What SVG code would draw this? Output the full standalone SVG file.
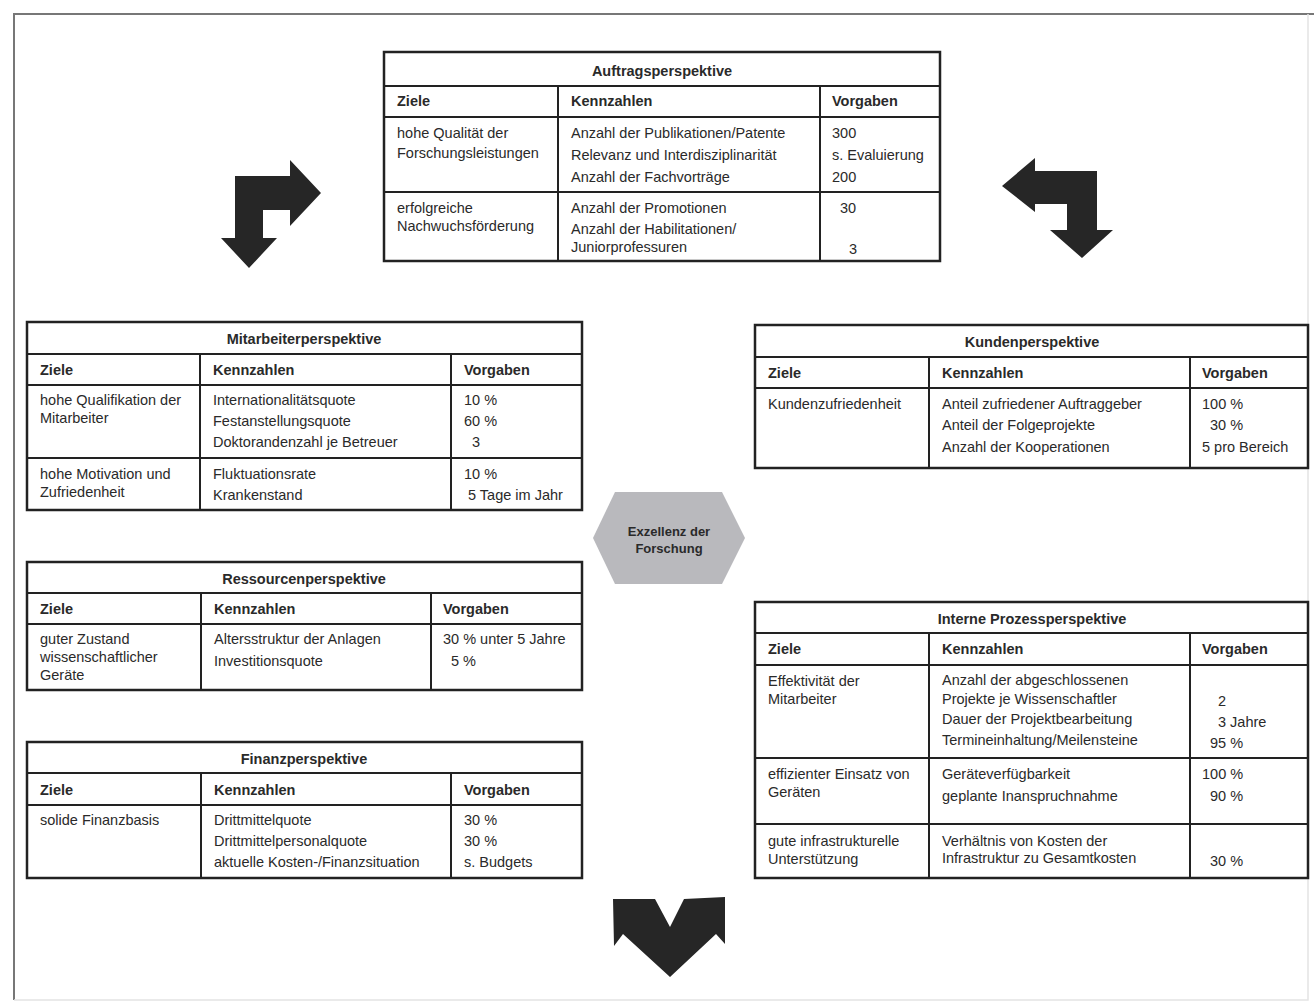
<svg xmlns="http://www.w3.org/2000/svg" width="1314" height="1005" viewBox="0 0 1314 1005">
<style>
.t{font-family:"Liberation Sans",Arial,sans-serif;font-size:14.5px;fill:#2a2a2a}
.b{font-weight:bold}
.m{text-anchor:middle}
.box{fill:#fff;stroke:#222;stroke-width:2.5}
.ln{stroke:#222;stroke-width:2;fill:none}
.arr{fill:#262626}
</style>
<rect width="1314" height="1005" fill="#fff"/>
<path d="M14,1000 L14,14 L1314,14" fill="none" stroke="#777" stroke-width="2"/>
<path d="M1308,14 L1308,1000 L14,1000" fill="none" stroke="#e4e4e4" stroke-width="1.5"/>

<g id="connectors">
<path class="arr" d="M235,238 L235,176 L290,176 L290,160 L321,193 L290,226 L290,210 L263,210 L263,238 L277,238 L249,268 L221,238 Z"/>
<path class="arr" d="M1097,171 L1097,230 L1113,230 L1082,258 L1050,230 L1067,230 L1067,204 L1035,204 L1035,212 L1002,186 L1035,158 L1035,171 Z"/>
<path class="arr" d="M613,899 L655,899 L670,927 L684,899 L725,897 L725,944 L716,934 L670,977 L623,934 L614,946 Z"/>
</g>

<g id="auftrag">
<rect class="box" x="384" y="52" width="556" height="209"/>
<path class="ln" d="M384,86 H940 M384,117 H940 M384,192 H940 M558,86 V261 M820,86 V261"/>
<text class="t b m" x="662" y="76">Auftragsperspektive</text>
<text class="t b" x="397" y="106">Ziele</text>
<text class="t b" x="571" y="106">Kennzahlen</text>
<text class="t b" x="832" y="106">Vorgaben</text>
<text class="t" x="397" y="138">hohe Qualität der</text>
<text class="t" x="397" y="158">Forschungsleistungen</text>
<text class="t" x="571" y="138">Anzahl der Publikationen/Patente</text>
<text class="t" x="571" y="160">Relevanz und Interdisziplinarität</text>
<text class="t" x="571" y="182">Anzahl der Fachvorträge</text>
<text class="t" x="832" y="138">300</text>
<text class="t" x="832" y="160">s. Evaluierung</text>
<text class="t" x="832" y="182">200</text>
<text class="t" x="397" y="213">erfolgreiche</text>
<text class="t" x="397" y="231">Nachwuchsförderung</text>
<text class="t" x="571" y="213">Anzahl der Promotionen</text>
<text class="t" x="571" y="234">Anzahl der Habilitationen/</text>
<text class="t" x="571" y="252">Juniorprofessuren</text>
<text class="t" x="840" y="213">30</text>
<text class="t" x="849" y="254">3</text>
</g>

<g id="mitarbeiter">
<rect class="box" x="27" y="322" width="555" height="188"/>
<path class="ln" d="M27,354 H582 M27,385 H582 M27,458 H582 M200,354 V510 M451,354 V510"/>
<text class="t b m" x="304" y="344">Mitarbeiterperspektive</text>
<text class="t b" x="40" y="375">Ziele</text>
<text class="t b" x="213" y="375">Kennzahlen</text>
<text class="t b" x="464" y="375">Vorgaben</text>
<text class="t" x="40" y="405">hohe Qualifikation der</text>
<text class="t" x="40" y="423">Mitarbeiter</text>
<text class="t" x="213" y="405">Internationalitätsquote</text>
<text class="t" x="213" y="426">Festanstellungsquote</text>
<text class="t" x="213" y="447">Doktorandenzahl je Betreuer</text>
<text class="t" x="464" y="405">10 %</text>
<text class="t" x="464" y="426">60 %</text>
<text class="t" x="472" y="447">3</text>
<text class="t" x="40" y="479">hohe Motivation und</text>
<text class="t" x="40" y="497">Zufriedenheit</text>
<text class="t" x="213" y="479">Fluktuationsrate</text>
<text class="t" x="213" y="500">Krankenstand</text>
<text class="t" x="464" y="479">10 %</text>
<text class="t" x="468" y="500">5 Tage im Jahr</text>
</g>

<g id="kunden">
<rect class="box" x="755" y="325" width="553" height="143"/>
<path class="ln" d="M755,357 H1308 M755,388 H1308 M929,357 V468 M1190,357 V468"/>
<text class="t b m" x="1032" y="347">Kundenperspektive</text>
<text class="t b" x="768" y="378">Ziele</text>
<text class="t b" x="942" y="378">Kennzahlen</text>
<text class="t b" x="1202" y="378">Vorgaben</text>
<text class="t" x="768" y="409">Kundenzufriedenheit</text>
<text class="t" x="942" y="409">Anteil zufriedener Auftraggeber</text>
<text class="t" x="942" y="430">Anteil der Folgeprojekte</text>
<text class="t" x="942" y="452">Anzahl der Kooperationen</text>
<text class="t" x="1202" y="409">100 %</text>
<text class="t" x="1210" y="430">30 %</text>
<text class="t" x="1202" y="452">5 pro Bereich</text>
</g>

<g id="exzellenz">
<polygon points="593,538 615,492 722,492 745,538 722,584 615,584" fill="#b9b9bd"/>
<text class="t b m" x="669" y="536" style="font-size:13px">Exzellenz der</text>
<text class="t b m" x="669" y="553" style="font-size:13px">Forschung</text>
</g>

<g id="ressourcen">
<rect class="box" x="27" y="562" width="555" height="128"/>
<path class="ln" d="M27,593 H582 M27,624 H582 M201,593 V690 M431,593 V690"/>
<text class="t b m" x="304" y="584">Ressourcenperspektive</text>
<text class="t b" x="40" y="614">Ziele</text>
<text class="t b" x="214" y="614">Kennzahlen</text>
<text class="t b" x="443" y="614">Vorgaben</text>
<text class="t" x="40" y="644">guter Zustand</text>
<text class="t" x="40" y="662">wissenschaftlicher</text>
<text class="t" x="40" y="680">Geräte</text>
<text class="t" x="214" y="644">Altersstruktur der Anlagen</text>
<text class="t" x="214" y="666">Investitionsquote</text>
<text class="t" x="443" y="644">30 % unter 5 Jahre</text>
<text class="t" x="451" y="666">5 %</text>
</g>

<g id="finanz">
<rect class="box" x="27" y="742" width="555" height="136"/>
<path class="ln" d="M27,773 H582 M27,805 H582 M201,773 V878 M451,773 V878"/>
<text class="t b m" x="304" y="764">Finanzperspektive</text>
<text class="t b" x="40" y="795">Ziele</text>
<text class="t b" x="214" y="795">Kennzahlen</text>
<text class="t b" x="464" y="795">Vorgaben</text>
<text class="t" x="40" y="825">solide Finanzbasis</text>
<text class="t" x="214" y="825">Drittmittelquote</text>
<text class="t" x="214" y="846">Drittmittelpersonalquote</text>
<text class="t" x="214" y="867">aktuelle Kosten-/Finanzsituation</text>
<text class="t" x="464" y="825">30 %</text>
<text class="t" x="464" y="846">30 %</text>
<text class="t" x="464" y="867">s. Budgets</text>
</g>

<g id="prozess">
<rect class="box" x="755" y="602" width="553" height="276"/>
<path class="ln" d="M755,633 H1308 M755,665 H1308 M755,758 H1308 M755,824 H1308 M929,633 V878 M1190,633 V878"/>
<text class="t b m" x="1032" y="624">Interne Prozessperspektive</text>
<text class="t b" x="768" y="654">Ziele</text>
<text class="t b" x="942" y="654">Kennzahlen</text>
<text class="t b" x="1202" y="654">Vorgaben</text>
<text class="t" x="768" y="686">Effektivität der</text>
<text class="t" x="768" y="704">Mitarbeiter</text>
<text class="t" x="942" y="685">Anzahl der abgeschlossenen</text>
<text class="t" x="942" y="704">Projekte je Wissenschaftler</text>
<text class="t" x="942" y="724">Dauer der Projektbearbeitung</text>
<text class="t" x="942" y="745">Termineinhaltung/Meilensteine</text>
<text class="t" x="1218" y="706">2</text>
<text class="t" x="1218" y="727">3 Jahre</text>
<text class="t" x="1210" y="748">95 %</text>
<text class="t" x="768" y="779">effizienter Einsatz von</text>
<text class="t" x="768" y="797">Geräten</text>
<text class="t" x="942" y="779">Geräteverfügbarkeit</text>
<text class="t" x="942" y="801">geplante Inanspruchnahme</text>
<text class="t" x="1202" y="779">100 %</text>
<text class="t" x="1210" y="801">90 %</text>
<text class="t" x="768" y="846">gute infrastrukturelle</text>
<text class="t" x="768" y="864">Unterstützung</text>
<text class="t" x="942" y="846">Verhältnis von Kosten der</text>
<text class="t" x="942" y="863">Infrastruktur zu Gesamtkosten</text>
<text class="t" x="1210" y="866">30 %</text>
</g>
</svg>
